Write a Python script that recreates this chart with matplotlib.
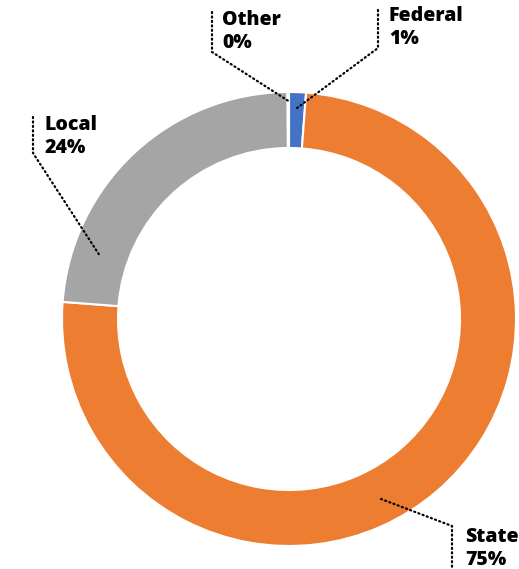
import matplotlib
matplotlib.use("Agg")
import matplotlib.pyplot as plt

categories = ["Federal", "State", "Local", "Other"]
values = [1.2, 75.0, 23.7, 0.1]
colors = ["#4472C4", "#ED7D31", "#A5A5A5", "#FFC000"]

W, H = 519, 569
fig = plt.figure(figsize=(W / 100, H / 100), dpi=100)
ax = fig.add_axes([0, 0, 1, 1])

cx, cy = 289, H - 319
R = 227
ax.pie(values, colors=colors, startangle=90, counterclock=False,
       radius=R, center=(cx, cy), frame=True,
       wedgeprops=dict(width=56, edgecolor="white", linewidth=1.5))
ax.set_xlim(0, W)
ax.set_ylim(0, H)
ax.axis("off")

total = sum(values)
pct = [f"{round(v / total * 100)}%" for v in values]

# label layout: (text x, text top y, leader polyline) in pixel coords (y from top)
layout = {
    "Other": ((222, 10), [(212, 12), (212, 52), (290, 102)]),
    "Federal": ((389, 6), [(378, 10), (378, 48), (297, 108)]),
    "Local": ((45, 115), [(33, 117), (33, 153), (100, 256)]),
    "State": ((465, 527), [(381, 499), (452, 526), (452, 569)]),
}

for cat, p in zip(categories, pct):
    (tx, ty), pts = layout[cat]
    ax.text(tx, H - ty, f"{cat}\n{p}", ha="left", va="top",
            fontsize=14, fontweight=800, family=["Open Sans", "DejaVu Sans"],
            linespacing=1.2, color="black")
    xs = [q[0] for q in pts]
    ys = [H - q[1] for q in pts]
    ax.plot(xs, ys, color="black", linewidth=1.6,
            linestyle=(0, (0.5, 1.5)), dash_capstyle="round")

fig.savefig("out.png", dpi=100)
